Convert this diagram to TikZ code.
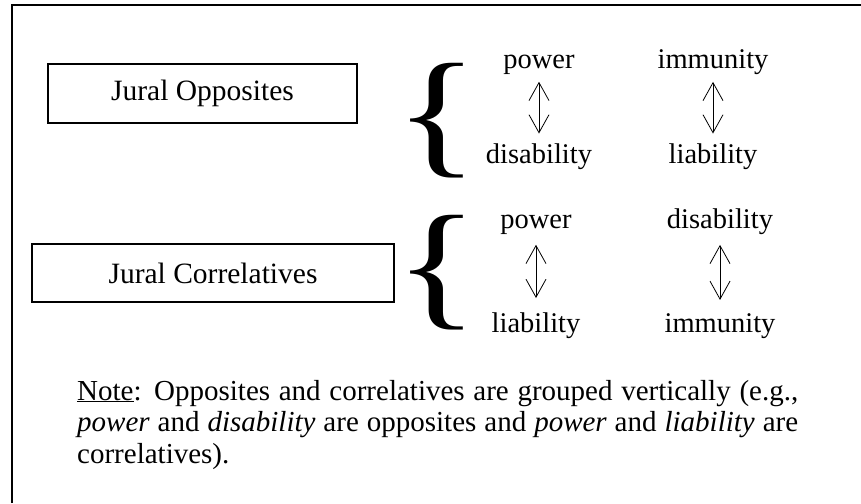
\documentclass[tikz,border=0pt]{standalone}
\usepackage{fontspec}
\setmainfont{Liberation Serif}
\usetikzlibrary{arrows.meta}
\begin{document}
\begin{tikzpicture}[x=1pt,y=-1pt,
  label box/.style={draw, line width=1.2pt, inner sep=0pt,
    font=\fontsize{29.5}{34}\selectfont},
  term/.style={inner sep=0pt, anchor=base, font=\fontsize{28.5}{32}\selectfont},
  brace/.style={inner sep=0pt},
  pair/.style={line width=0.8pt,
    {Straight Barb[length=18pt,width=20pt]}-{Straight Barb[length=18pt,width=20pt]}}
]
\useasboundingbox (0,0) rectangle (861,503);

% outer frame
\draw[line width=2.6pt] (12,503) -- (12,5) -- (861,5);

% category boxes
\node[label box, minimum width=309pt, minimum height=59pt] (opp) at (202.5,93.5) {Jural Opposites};
\node[label box, minimum width=362pt, minimum height=58pt] (cor) at (213,273) {Jural Correlatives};

% braces
\node[brace] (b1) at (436.5,121) {\scalebox{1.3}[1.02]{\fontsize{136}{136}\selectfont\{}};
\node[brace] (b2) at (436.5,272.5) {\scalebox{1.3}[1.02]{\fontsize{136}{136}\selectfont\{}};

% opposites
\node[term] (op1) at (539,68) {power};
\node[term] (od1) at (539,163) {disability};
\node[term] (op2) at (713,68) {immunity};
\node[term] (od2) at (713,163) {liability};
\draw[pair, shorten <=7.5pt, shorten >=9.5pt] (op1.south) -- (od1.north);
\draw[pair, shorten <=7.5pt, shorten >=9.5pt] (op2.south) -- (od2.north);

% correlatives
\node[term] (cp1) at (536,228) {power};
\node[term] (cd1) at (536,332) {liability};
\node[term] (cp2) at (720,228) {disability};
\node[term] (cd2) at (720,332) {immunity};
\draw[pair, shorten <=10.5pt, shorten >=14pt] (cp1.south) -- (cd1.north);
\draw[pair, shorten <=10.5pt, shorten >=13pt] (cp2.south) -- (cd2.north);

% note
\node[anchor=base west, inner sep=0pt, font=\fontsize{29}{31.5}\selectfont] (note) at (77,400)
  {\parbox[t]{721pt}{%
    \hbox to\hsize{\underline{Note}: Opposites and correlatives are grouped vertically (e.g.,}%
    \hbox to\hsize{{\itshape power} and {\itshape disability} are opposites and {\itshape power} and {\itshape liability} are}%
    \hbox{correlatives).}}};
\end{tikzpicture}
\end{document}
